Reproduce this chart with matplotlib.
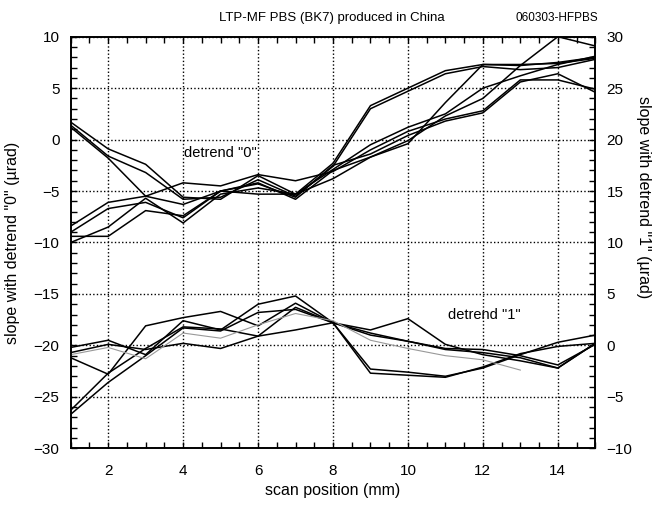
import numpy as np
import matplotlib
matplotlib.use('Agg')
import matplotlib.pyplot as plt
from matplotlib.ticker import MultipleLocator

plt.rcParams['font.family'] = ['Liberation Sans', 'DejaVu Sans']

# scan positions (mm)
scan_pos = [1, 2, 3, 4, 5, 6, 7, 8, 9, 10, 11, 12, 13, 14, 15]

# slope with detrend "0" (urad), left axis
d0_a = [1.7, -0.9, -2.4, -5.6, -5.8, -3.5, -5.3, -2.3, 3.3, 5.0, 6.7, 7.3, 7.2, 7.5, 8.0]
d0_b = [1.4, -1.6, -3.2, -5.8, -5.6, -3.9, -5.5, -2.6, 3.0, 4.7, 6.4, 7.1, 6.8, 7.0, 7.8]
d0_c = [1.2, -1.8, -5.5, -6.3, -5.0, -4.2, -5.8, -3.0, -1.7, -0.4, 3.6, 7.3, 7.3, 7.4, 7.9]
d0_d = [-8.4, -6.1, -5.5, -4.2, -4.5, -3.4, -4.0, -3.1, -1.0, 0.8, 2.0, 2.8, 5.8, 5.8, 4.9]
d0_e = [-9.0, -6.7, -6.1, -7.6, -5.0, -4.3, -5.6, -2.5, -1.4, 0.4, 1.8, 2.6, 5.6, 6.4, 4.6]
d0_f = [-10.0, -8.5, -5.7, -8.1, -5.3, -4.7, -5.3, -3.8, -1.7, -0.1, 2.3, 4.0, 7.2, 10.0, 9.1]
d0_g = [-9.4, -9.4, -6.9, -7.4, -5.0, -5.3, -5.3, -2.9, -0.5, 1.2, 2.5, 5.0, 6.2, 7.3, 8.1]

# slope with detrend "1" (urad), right axis
d1_a = [-0.2, 0.5, -0.9, 2.4, 1.5, 4.0, 4.8, 2.2, 1.5, 2.6, 0.1, -0.9, -1.5, -2.2, 0.2]
d1_b = [-1.2, -2.8, 1.9, 2.7, 3.3, 1.9, 4.1, 2.2, 1.0, 0.4, -0.3, -0.4, -1.0, -1.9, 0.1]
d1_c = [-6.7, -3.6, -1.0, 1.7, 1.4, 3.2, 3.5, 2.2, -2.3, -2.6, -3.0, -2.2, -0.9, 0.3, 1.0]
d1_d = [-6.3, -2.7, -0.3, 1.8, 1.6, 0.9, 3.7, 2.2, -2.7, -2.9, -3.1, -2.1, -0.8, -0.1, 0.2]
d1_e = [-0.7, 0.1, -0.4, 0.2, -0.3, 0.9, 1.5, 2.2, 1.2, 0.4, -0.4, -0.7, -1.2, -2.2, 0.2]
d1_f = [-0.9, -0.2, -1.3, 1.2, 0.7, 2.0, 3.1, 2.4, 0.5, -0.3, -1.0, -1.4, -2.4]

fig = plt.figure(figsize=(6.54, 5.07), dpi=100)
ax = fig.add_axes([0.1081, 0.1158, 0.8021, 0.8118])
ax2 = ax.twinx()

for y in [d0_a, d0_b, d0_c, d0_d, d0_e, d0_f, d0_g]:
    ax.plot(scan_pos, y, color='k', lw=1.1)
for y in [d1_a, d1_b, d1_c, d1_d, d1_e]:
    ax2.plot(scan_pos[:len(y)], y, color='k', lw=1.1)
ax2.plot(scan_pos[:len(d1_f)], d1_f, color='0.6', lw=0.8)

ax.set_xlim(1, 15)
ax.set_ylim(-30, 10)
ax2.set_ylim(-10, 30)

ax.xaxis.set_major_locator(MultipleLocator(2))
ax.xaxis.set_minor_locator(MultipleLocator(0.5))
for a in (ax, ax2):
    a.yaxis.set_major_locator(MultipleLocator(5))
    a.yaxis.set_minor_locator(MultipleLocator(1))

ax.grid(True, which='major', color='k', linestyle=(0, (1.0, 1.6)), lw=1.0)

ax.tick_params(which='both', direction='in', top=True, right=False,
               length=4, width=1, labelsize=11)
ax.tick_params(axis='x', pad=11)
ax.tick_params(axis='y', pad=8)
ax2.tick_params(which='both', direction='in', length=4, width=1,
                labelsize=11, pad=8)

for a in (ax, ax2):
    for s in a.spines.values():
        s.set_linewidth(1.2)

ax.set_xlabel('scan position (mm)', fontsize=11.5)
ax.set_ylabel('slope with detrend "0" (\u00b5rad)', fontsize=11.5, va='center')
ax.yaxis.set_label_coords(-0.111, 0.5)
ax2.set_ylabel('slope with detrend "1" (\u00b5rad)', fontsize=11.5,
               rotation=270, va='center')
ax2.yaxis.set_label_coords(1.091, 0.61)

ax.text(4.03, -1.3, 'detrend "0"', va='center', fontsize=10.5)
ax.text(11.08, -17.0, 'detrend "1"', va='center', fontsize=10.5)

fig.text(332 / 654, 1 - 18 / 507, 'LTP-MF PBS (BK7) produced in China',
         ha='center', va='center', fontsize=9.5)
fig.text(557 / 654, 1 - 18 / 507, '060303-HFPBS',
         ha='center', va='center', fontsize=8.5)

fig.savefig('out.png', dpi=100)
